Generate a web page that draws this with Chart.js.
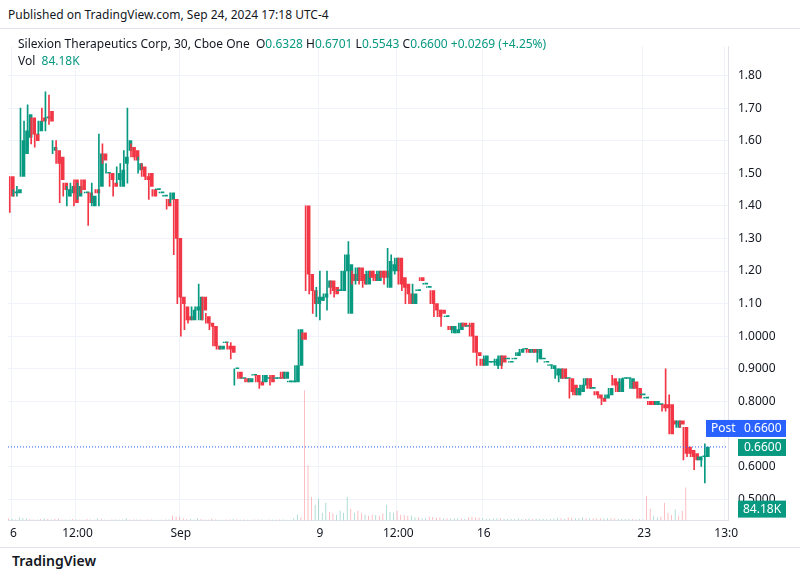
<!DOCTYPE html>
<html><head><meta charset="utf-8">
<script src="https://cdn.jsdelivr.net/npm/chart.js@4.4.1/dist/chart.umd.min.js"></script>
<style>
body{margin:0;background:#fff;font-family:"Noto Sans",Roboto,sans-serif;width:804px;height:578px;overflow:hidden;position:relative}
#pub{position:absolute;left:8px;top:6px;font-size:12px;color:#131722}
#hdr{position:absolute;left:18px;top:35px;font-size:12px;color:#131722;line-height:17px}
#hdr b{font-weight:normal;color:#089981}
#wrap{position:absolute;left:0;top:28px;width:800px;height:518px;border:1px solid #e0e3eb;border-left:none;border-right:none}
#logo{position:absolute;left:12px;top:551px;font-size:14px;color:#131722;font-weight:600}
</style></head><body>
<div id="pub">Published on TradingView.com, Sep 24, 2024 17:18 UTC-4</div>
<div id="wrap"><canvas id="c"></canvas></div>
<div id="hdr">Silexion Therapeutics Corp, 30, Cboe One&nbsp; O<b>0.6328</b> H<b>0.6701</b> L<b>0.5543</b> C<b>0.6600</b> <b>+0.0269 (+4.25%)</b><br>Vol&nbsp; <b>84.18K</b></div>
<div id="logo">TradingView</div>
<script>
// candles [open, high, low, close]
const candles = [
  [1.49,1.49,1.38,1.43],[1.44,1.45,1.43,1.44],[1.44,1.46,1.43,1.45],[1.49,1.70,1.49,1.60],[1.56,1.66,1.52,1.63],
  [1.61,1.71,1.58,1.68],[1.67,1.67,1.59,1.62],[1.62,1.63,1.58,1.60],[1.63,1.66,1.62,1.66],[1.67,1.70,1.66,1.66],
  [1.67,1.75,1.63,1.67],[1.69,1.74,1.65,1.66],
  [1.57,1.60,1.56,1.58],[1.57,1.60,1.53,1.53],[1.55,1.55,1.41,1.48],[1.47,1.47,1.43,1.45],[1.43,1.46,1.40,1.45],
  [1.44,1.47,1.43,1.46],[1.48,1.48,1.40,1.41],[1.43,1.47,1.42,1.46],[1.48,1.48,1.44,1.45],[1.44,1.44,1.44,1.44],
  [1.44,1.44,1.34,1.41],[1.40,1.47,1.40,1.43],[1.45,1.45,1.44,1.44],
  [1.46,1.62,1.40,1.56],[1.56,1.59,1.53,1.54],[1.50,1.53,1.50,1.50],[1.50,1.50,1.46,1.48],[1.47,1.48,1.43,1.46],
  [1.48,1.52,1.47,1.50],[1.46,1.53,1.46,1.51],[1.53,1.57,1.50,1.55],[1.57,1.70,1.47,1.60],[1.58,1.59,1.55,1.55],
  [1.57,1.58,1.54,1.54],[1.51,1.55,1.50,1.53],[1.52,1.53,1.49,1.49],[1.49,1.50,1.48,1.48],[1.50,1.50,1.42,1.46],
  [1.45,1.45,1.43,1.43],[1.45,1.45,1.45,1.45],[1.44,1.44,1.44,1.44],[1.43,1.43,1.43,1.43],[1.42,1.42,1.39,1.40],
  [1.42,1.44,1.41,1.44],
  [1.42,1.42,1.25,1.30],[1.30,1.30,1.10,1.12],[1.12,1.12,1.00,1.10],[1.09,1.10,1.02,1.05],[1.06,1.07,1.04,1.05],
  [1.05,1.09,1.05,1.08],[1.08,1.09,1.07,1.09],[1.05,1.16,1.05,1.12],[1.12,1.12,1.05,1.08],[1.06,1.07,1.04,1.04],
  [1.04,1.04,1.02,1.03],[1.03,1.03,0.97,0.97],[0.97,0.98,0.96,0.96],[0.96,0.97,0.96,0.97],[0.98,0.98,0.98,0.98],
  [0.97,0.98,0.96,0.96],[0.97,0.98,0.93,0.95],
  [0.90,0.90,0.85,0.90],[0.89,0.89,0.87,0.87],[0.87,0.87,0.87,0.87],[0.87,0.87,0.86,0.86],[0.86,0.87,0.86,0.87],
  [0.88,0.88,0.88,0.88],[0.88,0.88,0.86,0.86],[0.86,0.86,0.84,0.85],[0.86,0.88,0.86,0.88],[0.87,0.88,0.87,0.87],
  [0.88,0.88,0.85,0.86],[0.87,0.87,0.87,0.87],[0.87,0.87,0.87,0.87],[0.89,0.89,0.87,0.87],[0.87,0.89,0.87,0.89],
  [0.86,0.86,0.86,0.86],[0.86,0.86,0.86,0.86],[0.86,0.91,0.86,0.91],[0.91,1.02,0.91,1.02],[1.01,1.01,0.99,0.99],
  [1.40,1.40,1.14,1.19],[1.19,1.26,1.13,1.14],[1.14,1.14,1.07,1.10],[1.10,1.15,1.06,1.12],[1.11,1.20,1.05,1.12],
  [1.12,1.13,1.11,1.13],[1.15,1.20,1.08,1.17],[1.17,1.17,1.13,1.14],[1.15,1.15,1.12,1.13],[1.14,1.14,1.14,1.14],
  [1.14,1.20,1.14,1.20],[1.20,1.25,1.19,1.25],[1.07,1.29,1.07,1.22],[1.19,1.20,1.16,1.17],[1.17,1.21,1.16,1.21],
  [1.21,1.21,1.16,1.17],[1.19,1.19,1.15,1.16],[1.16,1.20,1.16,1.20],[1.20,1.20,1.18,1.18],[1.19,1.20,1.17,1.17],
  [1.17,1.20,1.17,1.20],[1.20,1.20,1.18,1.18],[1.20,1.20,1.16,1.18],[1.15,1.27,1.15,1.23],[1.20,1.25,1.19,1.22],
  [1.20,1.24,1.19,1.24],[1.24,1.24,1.16,1.16],[1.18,1.18,1.14,1.15],[1.16,1.16,1.10,1.13],[1.13,1.13,1.10,1.10],
  [1.10,1.16,1.10,1.13],[1.14,1.14,1.14,1.14],[1.18,1.18,1.17,1.17],[1.16,1.16,1.16,1.16],[1.15,1.15,1.15,1.15],
  [1.14,1.14,1.10,1.10],[1.10,1.10,1.06,1.08],[1.08,1.08,1.06,1.06],[1.08,1.08,1.03,1.07],[1.06,1.06,1.06,1.06],
  [1.03,1.03,1.02,1.02],[1.01,1.03,1.01,1.03],[1.01,1.02,1.01,1.02],[1.02,1.04,1.02,1.04],[1.04,1.04,1.03,1.03],
  [1.03,1.03,1.03,1.03],[1.04,1.04,1.00,1.00],[1.00,1.00,0.95,0.95],[0.95,0.95,0.91,0.94],[0.93,0.93,0.91,0.91],
  [0.91,0.94,0.91,0.94],[0.92,0.92,0.92,0.92],[0.92,0.92,0.92,0.92],[0.91,0.93,0.91,0.93],[0.91,0.94,0.90,0.94],
  [0.94,0.94,0.90,0.92],[0.93,0.93,0.93,0.93],[0.92,0.92,0.92,0.92],[0.93,0.93,0.93,0.93],[0.94,0.95,0.94,0.95],
  [0.95,0.96,0.95,0.96],[0.96,0.96,0.96,0.96],[0.96,0.96,0.95,0.95],[0.95,0.96,0.95,0.96],[0.96,0.96,0.95,0.95],
  [0.93,0.96,0.92,0.96],[0.93,0.93,0.93,0.93],[0.92,0.92,0.92,0.92],[0.91,0.91,0.91,0.91],[0.90,0.91,0.90,0.91],
  [0.88,0.90,0.87,0.90],[0.87,0.90,0.86,0.90],[0.90,0.90,0.87,0.87],[0.87,0.87,0.87,0.87],[0.87,0.87,0.81,0.83],
  [0.85,0.85,0.82,0.82],[0.82,0.84,0.82,0.84],[0.83,0.85,0.82,0.85],[0.85,0.87,0.85,0.87],[0.87,0.87,0.84,0.84],
  [0.84,0.84,0.84,0.84],[0.83,0.83,0.82,0.82],[0.82,0.82,0.81,0.81],[0.81,0.81,0.79,0.80],[0.81,0.82,0.81,0.82],
  [0.82,0.84,0.82,0.84],[0.87,0.88,0.85,0.85],[0.86,0.86,0.83,0.83],[0.83,0.87,0.83,0.87],[0.87,0.87,0.87,0.87],
  [0.87,0.87,0.87,0.87],[0.84,0.87,0.84,0.87],[0.86,0.86,0.84,0.84],[0.84,0.84,0.81,0.81],[0.82,0.82,0.82,0.82],
  [0.81,0.81,0.81,0.81],[0.80,0.80,0.79,0.79],[0.80,0.80,0.79,0.79],[0.79,0.80,0.79,0.80],[0.79,0.79,0.79,0.79],
  [0.79,0.79,0.77,0.78],[0.79,0.90,0.77,0.78],[0.79,0.82,0.70,0.70],[0.74,0.74,0.73,0.73],[0.72,0.74,0.72,0.74],
  [0.74,0.74,0.72,0.73],[0.72,0.72,0.62,0.64],[0.66,0.66,0.63,0.64],[0.65,0.65,0.63,0.63],[0.64,0.64,0.59,0.62],
  [0.62,0.63,0.62,0.63],[0.63,0.63,0.60,0.63],[0.63,0.67,0.55,0.66]
];
// volume in thousands, one per candle (mostly tiny, spikes after the Sep 10 jump and Sep 23 drop)
const volumes = [
  6,4,3,8,6,5,4,3,3,4,5,4, 3,4,5,3,3,3,4,3,3,2,4,3,2,
  6,4,2,2,3,3,3,3,6,3,3,3,3,2,3,3,2,2,2,3,3,
  12,10,9,6,4,4,3,6,4,3,3,5,3,2,2,3,3,
  4,3,2,3,2,2,3,3,3,2,3,2,2,3,3,2,2,6,15,8,
  330,140,60,40,55,20,45,22,18,15,25,20,60,30,20,25,18,15,12,15,
  14,12,18,40,22,20,25,15,14,12,12,8,8,6,6,10,9,7,8,5,
  6,5,5,6,5,4,8,10,8,7,6,4,4,5,6,6,4,4,4,4,
  5,4,4,5,4,5,4,4,4,4,5,6,6,4,8,7,6,6,8,6,
  5,5,5,6,5,6,6,5,4,4,4,4,4,3,4,3,62,30,12,8,
  10,45,20,14,28,12,25,84
];
const tickLabels = ['6','12:00','Sep','9','12:00','16','23','13:0'];
const tickFrac = [0.006,0.095,0.247,0.443,0.557,0.679,0.908,1.023];
const priceTicks = [1.8,1.7,1.6,1.5,1.4,1.3,1.2,1.1,1.0,0.9,0.8,0.6,0.5];
const lastPrice = 0.66;

const UP = '#089981', DN = '#f23645';
const N = candles.length;
const PAD = 6; // empty slots on the right like the reference
const labels = [];
for (let i = 0; i < N + PAD; i++) labels.push(i);
const tickAt = {};
tickFrac.forEach((f, k) => { tickAt[Math.round(f * N)] = tickLabels[k]; });
const isUp = i => candles[i][3] >= candles[i][0];
const wick = candles.map(c => [c[2], c[1] === c[2] ? c[1] + 0.002 : c[1]]);
const body = candles.map(c => [c[0], c[0] === c[3] ? c[3] + 0.003 : c[3]]);

const lastLine = {
  id: 'lastLine',
  afterDatasetsDraw(chart) {
    const { ctx, chartArea, scales } = chart;
    const y = scales.y.getPixelForValue(lastPrice);
    ctx.save();
    ctx.strokeStyle = '#2962ff'; ctx.setLineDash([1, 2]); ctx.lineWidth = 1;
    ctx.beginPath(); ctx.moveTo(chartArea.left, y); ctx.lineTo(chartArea.right, y); ctx.stroke();
    ctx.setLineDash([]);
    ctx.font = '12px "Noto Sans"'; ctx.textBaseline = 'middle';
    ctx.fillStyle = '#2962ff'; ctx.fillRect(706, y - 27, 32, 17);
    ctx.fillStyle = '#fff'; ctx.fillText('Post', 711, y - 18);
    ctx.fillStyle = '#2962ff'; ctx.fillRect(738, y - 27, 48, 17);
    ctx.fillStyle = '#fff'; ctx.fillText('0.6600', 744, y - 18);
    ctx.fillStyle = UP; ctx.fillRect(738, y - 8, 48, 17);
    ctx.fillStyle = '#fff'; ctx.fillText('0.6600', 744, y + 1);
    const yb = chartArea.bottom - 12;
    ctx.fillStyle = UP; ctx.fillRect(738, yb - 8, 48, 17);
    ctx.fillStyle = '#fff'; ctx.fillText('84.18K', 743, yb + 1);
    ctx.restore();
  }
};

new Chart(document.getElementById('c'), {
  type: 'bar',
  data: {
    labels,
    datasets: [
      { data: volumes, yAxisID: 'v', barPercentage: 0.6, categoryPercentage: 1,
        backgroundColor: volumes.map((v, i) => isUp(i) ? 'rgba(8,153,129,0.45)' : 'rgba(242,54,69,0.45)') },
      { data: wick, barThickness: 1, backgroundColor: candles.map((c, i) => isUp(i) ? UP : DN) },
      { data: body, barThickness: 3, backgroundColor: candles.map((c, i) => isUp(i) ? UP : DN) }
    ]
  },
  options: {
    responsive: true,
    maintainAspectRatio: false,
    animation: false,
    layout: { padding: { left: 8, right: 10 } },
    plugins: { legend: { display: false }, tooltip: { enabled: false } },
    scales: {
      x: {
        stacked: false,
        grid: { color: c => (c.tick && tickAt[c.tick.value] !== undefined) ? '#f0f3fa' : 'transparent', drawTicks: false },
        border: { color: '#e0e3eb' },
        ticks: {
          autoSkip: false, maxRotation: 0, color: '#131722', font: { size: 12, family: 'Noto Sans' }, padding: 6,
          callback: v => tickAt[v] !== undefined ? tickAt[v] : ''
        }
      },
      y: {
        position: 'right', min: 0.434, max: 1.89,
        afterBuildTicks: s => { s.ticks = priceTicks.map(v => ({ value: v })); },
        grid: { color: '#f0f3fa', drawTicks: false },
        border: { color: '#e0e3eb' },
        ticks: {
          color: '#131722', font: { size: 12, family: 'Noto Sans' }, padding: 10,
          callback: v => v > 1.05 ? v.toFixed(2) : v.toFixed(4)
        },
        afterFit: s => { s.width = 62; }
      },
      v: { display: false, min: 0, max: 1200 }
    }
  },
  plugins: [lastLine]
});
</script>
</body></html>
